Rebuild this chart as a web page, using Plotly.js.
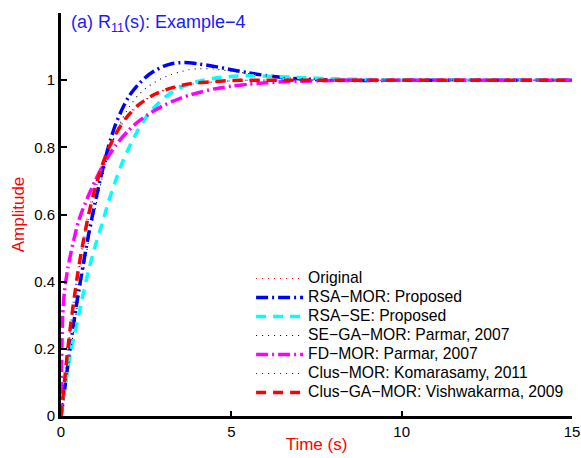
<!DOCTYPE html>
<html>
<head>
<meta charset="utf-8">
<script src="https://cdn.plot.ly/plotly-3.0.1.min.js"></script>
<style>html,body{margin:0;padding:0;background:#fff;}#chart{width:581px;height:458px;}</style>
</head>
<body>
<div id="chart"></div>
<script>
// Time samples (s)
const time = [0, 0.025, 0.05, 0.1, 0.2, 0.3, 0.4, 0.5, 0.6, 0.8,
              1.0, 1.2, 1.4, 1.6, 1.8, 2.0, 2.25, 2.5, 2.75, 3.0,
              3.25, 3.5, 3.75, 4.0, 4.5, 5.0,
              5.5, 6.0, 6.5, 7.0, 8.0, 9.0, 10, 12, 15];

const original = [0, .03, .06, .115, .21, .295, .372, .44, .50, .605,
                  .686, .75, .802, .843, .876, .902, .927, .945, .959, .97,
                  .978, .984, .988, .991, .995, .998,
                  1, 1, 1, 1, 1, 1, 1, 1, 1];

const rsaMor = [0, .015, .035, .075, .15, .225, .295, .36, .42, .535,
                .635, .725, .805, .868, .915, .953, .985, 1.01, 1.028, 1.041,
                1.049, 1.052, 1.052, 1.049, 1.041, 1.031,
                1.022, 1.014, 1.008, 1.004, 1.0, .999, 1, 1, 1];

const rsaSe = [0, .018, .037, .072, .14, .20, .245, .29, .34, .43,
               .505, .57, .64, .70, .755, .80, .85, .89, .92, .945,
               .963, .977, .988, .996, 1.006, 1.011,
               1.013, 1.012, 1.01, 1.008, 1.004, 1.002, 1.0, 1, 1];

const seGaMor = [0, .012, .03, .065, .135, .205, .275, .34, .40, .515,
                 .615, .705, .78, .84, .885, .92, .953, .977, .994, 1.007,
                 1.017, 1.025, 1.031, 1.034, 1.033, 1.027,
                 1.02, 1.013, 1.008, 1.005, 1.001, 1.0, 1, 1, 1];

const fdMor = [0, .2, .3, .37, .44, .49, .535, .575, .605, .655,
               .70, .74, .775, .805, .83, .852, .875, .894, .91, .924,
               .936, .946, .955, .962, .974, .982,
               .988, .992, .995, .997, .999, 1, 1, 1, 1];

const clusMor = [0, .022, .045, .09, .185, .27, .345, .415, .475, .585,
                 .67, .738, .792, .835, .869, .896, .922, .942, .957, .968,
                 .976, .982, .987, .99, .995, .998,
                 1, 1, 1, 1, 1, 1, 1, 1, 1];

const clusGaMor = [0, .025, .05, .10, .20, .285, .36, .43, .49, .595,
                   .678, .744, .797, .838, .872, .898, .924, .943, .958, .969,
                   .977, .984, .989, .992, .996, .999,
                   1, 1, 1, 1, 1, 1, 1, 1, 1];

const seriesNames = ['Original', 'RSA\u2212MOR: Proposed', 'RSA\u2212SE: Proposed',
  'SE\u2212GA\u2212MOR: Parmar, 2007', 'FD\u2212MOR: Parmar, 2007',
  'Clus\u2212MOR: Komarasamy, 2011', 'Clus\u2212GA\u2212MOR: Vishwakarma, 2009'];

const xTicks = [0, 5, 10, 15];
const yTicks = [0, 0.2, 0.4, 0.6, 0.8, 1];
const yTickText = ['0', '0.2', '0.4', '0.6', '0.8', '1'];

const seriesValues = [original, rsaMor, rsaSe, seGaMor, fdMor, clusMor, clusGaMor];
const styles = [
  {color: '#ff0000', width: 1.1, dash: '1px,5px'},
  {color: '#0000ff', width: 3.5, dash: '12px,4px,2px,4px'},
  {color: '#00ffff', width: 3.5, dash: '10px,7px'},
  {color: '#000000', width: 1.1, dash: '1px,5px'},
  {color: '#ff00ff', width: 3.5, dash: '12px,4px,2px,4px'},
  {color: '#0000ff', width: 1.1, dash: '1px,5px'},
  {color: '#ff0000', width: 3.5, dash: '10px,7px'}
];

const traces = seriesValues.map((vals, i) => ({
  x: time, y: vals, type: 'scatter', mode: 'lines',
  name: '<span style="font-size:15.7px">' + seriesNames[i] + '</span>',
  line: Object.assign({shape: 'spline', smoothing: 0.6}, styles[i])
}));

const font = 'Liberation Sans, Arial, Helvetica, sans-serif';
const layout = {
  width: 581, height: 458,
  margin: {l: 61, r: 9, t: 13, b: 42, pad: 0},
  paper_bgcolor: '#ffffff', plot_bgcolor: '#ffffff',
  font: {family: font, color: '#000'},
  showlegend: true,
  legend: {
    x: 0.372, xanchor: 'left', y: 0.377, yanchor: 'top',
    bgcolor: 'rgba(255,255,255,0)', borderwidth: 0,
    font: {family: font, size: 12, color: '#000'},
    itemwidth: 47, tracegroupgap: 0
  },
  xaxis: {
    range: [0, 15], tickvals: xTicks, ticktext: xTicks.map(String),
    ticks: 'inside', ticklen: 5, tickwidth: 2, tickcolor: '#000',
    showline: true, linewidth: 3, linecolor: '#000', mirror: false,
    showgrid: false, zeroline: false,
    tickfont: {family: font, size: 15, color: '#000'},
    title: {text: 'Time (s)', font: {family: font, size: 17, color: '#ff0000'}, standoff: 0}
  },
  yaxis: {
    range: [0, 1.2], tickvals: yTicks, ticktext: yTickText,
    ticks: 'inside', ticklen: 6, tickwidth: 2, tickcolor: '#000',
    showline: true, linewidth: 3, linecolor: '#000', mirror: false,
    showgrid: false, zeroline: false,
    tickfont: {family: font, size: 15, color: '#000'},
    title: {text: 'Amplitude', font: {family: font, size: 17, color: '#ff0000'}, standoff: 6}
  },
  annotations: [{
    xref: 'paper', yref: 'paper', x: 0, y: 1, xanchor: 'left', yanchor: 'top',
    xshift: 8, yshift: 3, showarrow: false,
    text: '(a) R<sub>11</sub>(s): Example\u22124',
    font: {family: font, size: 18, color: '#1a1aff'}
  }]
};

Plotly.newPlot('chart', traces, layout, {displayModeBar: false, staticPlot: true});
</script>
</body>
</html>
